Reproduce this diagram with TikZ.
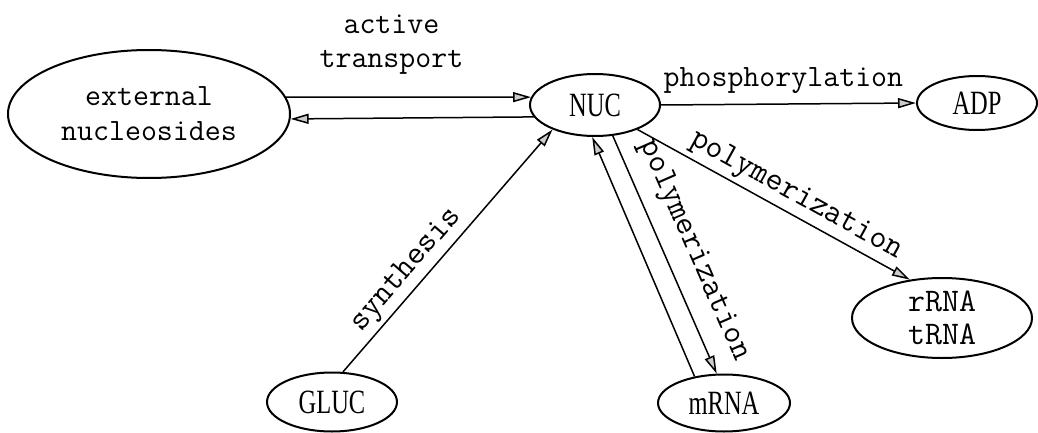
\documentclass[tikz,border=0pt]{standalone}
\usepackage{fontspec}
\newfontfamily\slimfont[FakeStretch=0.72]{Liberation Serif}
\usetikzlibrary{arrows.meta,shapes.geometric}

\tikzset{
    pool/.style={ellipse,draw,line width=1pt,inner sep=0pt},
    typed/.style={font=\ttfamily\fontsize{15.5}{17.5}\selectfont},
    slim/.style={font=\slimfont\fontsize{17}{20}\selectfont},
    tag/.style={font=\ttfamily\fontsize{15.5}{17}\selectfont,inner sep=2pt},
    slanttag/.style={font=\ttfamily\fontsize{16.5}{18}\selectfont,inner sep=2pt,sloped}
}

\begin{document}
\begin{tikzpicture}[x=0.5pt,y=-0.5pt,line width=0.75pt,
                    >={Triangle[length=9pt,width=5pt,fill=gray!40]}]
                        \useasboundingbox (0,0) rectangle (1038,433);
                        \node[pool,typed,align=center,minimum width=141pt,minimum height=64pt] (ext) at (149,114) {external\\nucleosides};
                        \node[pool,slim,minimum width=65pt,minimum height=31pt] (NUC) at (595,105) {NUC};
                        \node[pool,slim,minimum width=60pt,minimum height=27pt] (ADP) at (977,103) {ADP};
                        \node[pool,font=\ttfamily\fontsize{16.5}{16.5}\selectfont,align=center,minimum width=90pt,minimum height=40pt] (RNA) at (942,318) {rRNA\\tRNA};
                        \node[pool,slim,minimum width=65pt,minimum height=29.5pt] (GLUC) at (332,402) {GLUC};
                        \node[pool,slim,minimum width=66pt,minimum height=28.5pt] (mRNA) at (724,403) {mRNA};
                        \path[->]
                            (ext.7) edge node[tag,pos=0.43,above=9pt,align=center] {active\\transport} (NUC.173)
                            (NUC.191) edge (ext.358)
                            (NUC.east) edge node[tag,pos=0.48,above=3pt] {phosphorylation} (ADP.west)
                            (NUC.-30) edge node[slanttag,pos=0.55,above] {polymerization} (RNA.130)
                            (GLUC.70) edge node[slanttag,pos=0.37,above] {synthesis} (NUC.210)
                            (mRNA.138) edge (NUC.-95)
                            (NUC.-60) edge node[slanttag,pos=0.53,above=5pt] {polymerization} (mRNA.104);
                    \end{tikzpicture}
\end{document}
